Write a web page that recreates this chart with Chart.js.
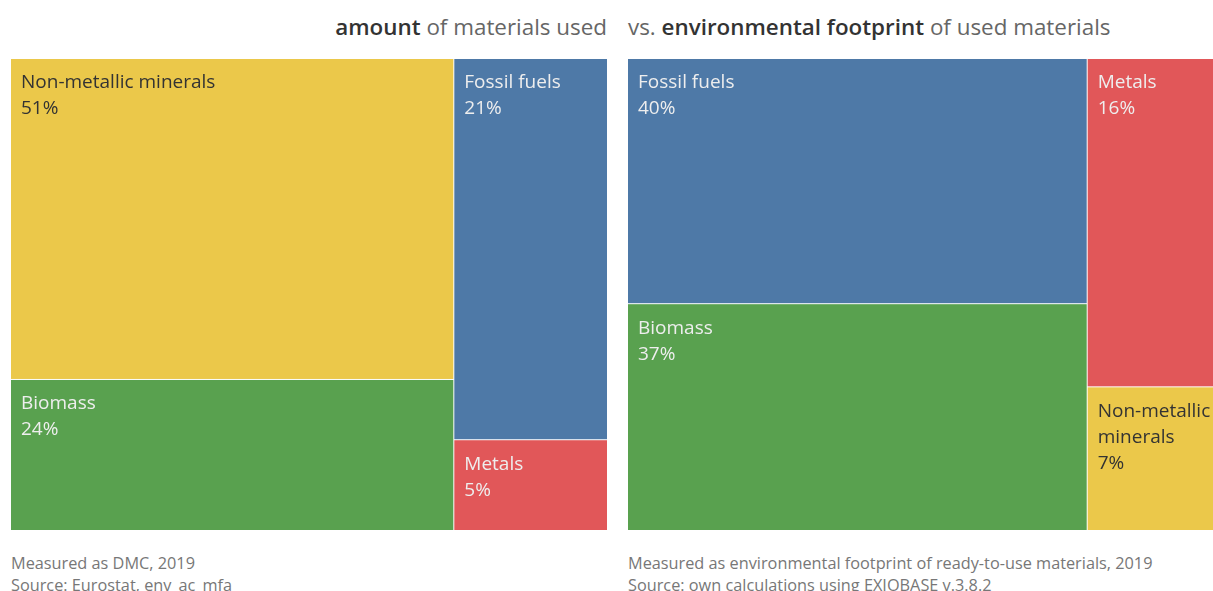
<!DOCTYPE html>
<html lang="en">
<head>
<meta charset="UTF-8">
<title>Material use vs. environmental footprint</title>
<style>
  body{
    margin: 0;
    width: 1213px;
    height: 591px;
    overflow: hidden;
    background: #fff;
    font-family: "Open Sans", sans-serif;
    position: relative;
  }
  .title{
    position: absolute;
    top: 11px;
    font-size: 22.4px;
    color: #666;
    white-space: nowrap;
    line-height: 32px;
  }
  .title b{ color: #333; font-weight: 600; }
  .box{
    position: absolute;
    top: 59px;
    height: 472px;
  }
  .note{
    position: absolute;
    top: 552px;
    font-size: 16.3px;
    line-height: 22px;
    color: #777;
    white-space: nowrap;
  }
</style>
</head>
<body>
  <div class="title" style="right:606px"><b>amount</b> of materials used</div>
  <div class="title" style="left:628px">vs. <b>environmental footprint</b> of used materials</div>

  <div class="box" style="left:11px;width:597px"><canvas id="mapAmount"></canvas></div>
  <div class="box" style="left:628px;width:597px"><canvas id="mapFootprint"></canvas></div>

  <div class="note" style="left:11px">Measured as DMC, 2019<br>Source: Eurostat, env_ac_mfa</div>
  <div class="note" style="left:628px">Measured as environmental footprint of ready-to-use materials, 2019<br>Source: own calculations using EXIOBASE v.3.8.2</div>

<script src="https://cdn.jsdelivr.net/npm/chart.js"></script>
<script>
  // share of each material group (%)
  const categories = ['Non-metallic minerals', 'Biomass', 'Fossil fuels', 'Metals'];
  const amountShare = [51, 24, 21, 5];
  const footprintShare = [7, 37, 40, 16];

  const colours = {
    'Non-metallic minerals': '#EBC84A',
    'Biomass': '#59A14F',
    'Fossil fuels': '#4E79A7',
    'Metals': '#E15759'
  };
  const textColours = {
    'Non-metallic minerals': '#333333',
    'Biomass': '#eeeeee',
    'Fossil fuels': '#eeeeee',
    'Metals': '#eeeeee'
  };

  // two columns: the two biggest groups on the left, the rest on the right
  const treemapCols = {
    id: 'treemapCols',
    afterDraw(chart, args, opts) {
      const ctx = chart.ctx;
      const xs = chart.scales.x, ys = chart.scales.y;
      const items = opts.labels.map((l, i) => ({label: l, value: opts.values[i]}))
        .sort((a, b) => b.value - a.value);
      const total = items.reduce((s, d) => s + d.value, 0);
      const cols = [items.slice(0, 2), items.slice(2)];

      ctx.save();
      ctx.beginPath();
      ctx.rect(chart.chartArea.left, chart.chartArea.top, chart.chartArea.width, chart.chartArea.height);
      ctx.clip();

      let x0 = 0;
      cols.forEach(col => {
        const colSum = col.reduce((s, d) => s + d.value, 0);
        const x1 = x0 + colSum / total * 100;
        let y0 = 0;
        col.forEach(it => {
          const y1 = y0 + it.value / colSum * 100;
          const left = xs.getPixelForValue(x0), right = xs.getPixelForValue(x1);
          const top = ys.getPixelForValue(y0), bottom = ys.getPixelForValue(y1);
          ctx.fillStyle = colours[it.label];
          ctx.fillRect(left, top, right - left - 1, bottom - top - 1);

          // label + share, wrapped to the cell width
          ctx.font = '19px "Open Sans", sans-serif';
          ctx.fillStyle = textColours[it.label];
          ctx.textBaseline = 'middle';
          ctx.textAlign = 'left';
          const maxW = right - left - 20;
          const lines = [];
          let line = '';
          it.label.split(' ').forEach(w => {
            const test = line ? line + ' ' + w : w;
            if (line && ctx.measureText(test).width > maxW) {
              lines.push(line);
              line = w;
            } else {
              line = test;
            }
          });
          lines.push(line);
          lines.push(it.value + '%');
          lines.forEach((t, i) => ctx.fillText(t, left + 10, top + 24 + i * 26));
          y0 = y1;
        });
        x0 = x1;
      });
      ctx.restore();
    }
  };

  function makeMap(id, values) {
    return new Chart(document.getElementById(id), {
      type: 'scatter',
      data: { datasets: [] },
      options: {
        responsive: true,
        maintainAspectRatio: false,
        animation: false,
        layout: { padding: 0 },
        scales: {
          x: { type: 'linear', min: 0, max: 100, display: false },
          y: { type: 'linear', min: 0, max: 100, reverse: true, display: false }
        },
        plugins: {
          legend: { display: false },
          tooltip: { enabled: false },
          treemapCols: { labels: categories, values: values }
        }
      },
      plugins: [treemapCols]
    });
  }

  makeMap('mapAmount', amountShare);
  makeMap('mapFootprint', footprintShare);
</script>
</body>
</html>
